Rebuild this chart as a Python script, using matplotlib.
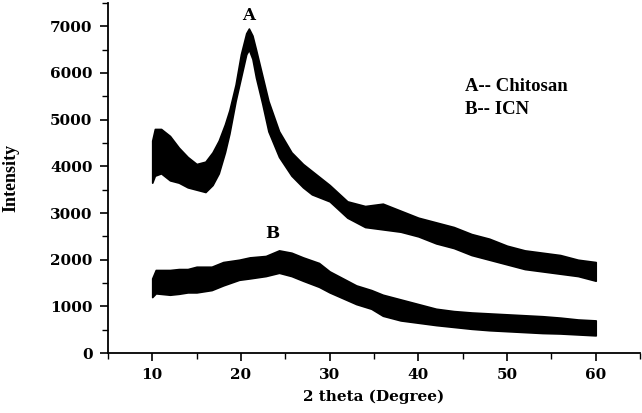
import matplotlib
matplotlib.use('Agg')
import matplotlib.pyplot as plt
from matplotlib.ticker import MultipleLocator

# Chitosan (A): 2theta and the lower/upper edge of the noisy trace
theta_a = [10.0, 10.3, 11, 12, 13, 14, 15, 16, 16.8, 17.5, 18.2, 18.7, 19.4,
           20.0, 20.6, 20.9, 21.3, 21.7, 22.4, 23.1, 24.3, 25.7, 27, 28, 30,
           32, 34, 36, 38, 40, 42, 44, 46, 48, 50, 52, 54, 56, 58, 60]
low_a = [3650, 3800, 3850, 3700, 3650, 3550, 3500, 3450, 3600, 3850, 4300,
         4700, 5400, 5900, 6400, 6500, 6300, 5900, 5350, 4750, 4200, 3800,
         3550, 3400, 3250, 2900, 2700, 2650, 2600, 2500, 2350, 2250, 2100,
         2000, 1900, 1800, 1750, 1700, 1650, 1550]
high_a = [4550, 4800, 4800, 4650, 4400, 4200, 4050, 4100, 4300, 4550, 4900,
          5200, 5750, 6400, 6850, 6950, 6800, 6500, 5950, 5400, 4750, 4300,
          4050, 3900, 3600, 3250, 3150, 3200, 3050, 2900, 2800, 2700, 2550,
          2450, 2300, 2200, 2150, 2100, 2000, 1950]

# ICN (B)
theta_b = [10.0, 10.4, 12, 13, 14, 15, 16.7, 18, 19.8, 21, 22.8, 24.3, 25.7,
           27, 28.8, 30, 31.8, 33, 34.7, 36, 38, 40, 42, 44, 46, 48, 50, 52,
           54, 56, 58, 60]
low_b = [1200, 1280, 1250, 1270, 1300, 1300, 1350, 1450, 1570, 1600, 1650,
         1720, 1650, 1550, 1420, 1300, 1150, 1050, 950, 800, 700, 650, 600,
         560, 520, 490, 470, 450, 430, 420, 400, 380]
high_b = [1600, 1780, 1780, 1800, 1800, 1850, 1850, 1950, 2000, 2050, 2080,
          2200, 2150, 2050, 1930, 1750, 1570, 1450, 1350, 1250, 1150, 1050,
          950, 900, 870, 850, 830, 810, 790, 760, 720, 700]

plt.rcParams['font.family'] = ['DejaVu Serif']
plt.rcParams['font.weight'] = 'bold'
TIMES = ['Liberation Serif', 'DejaVu Serif']

fig = plt.figure(figsize=(6.42, 4.13), dpi=100)
ax = fig.add_axes([0.168, 0.145, 0.829, 0.848])

ax.fill_between(theta_a, low_a, high_a, color='black', linewidth=1.2,
                edgecolor='black')
ax.fill_between(theta_b, low_b, high_b, color='black', linewidth=1.2,
                edgecolor='black')

ax.text(20.9, 7050, 'A', ha='center', va='bottom', fontsize=12,
        fontweight='bold')
ax.text(23.5, 2560, 'B', ha='center', va='center', fontsize=12,
        fontweight='bold')
ax.text(45.3, 5700, 'A-- Chitosan', ha='left', va='center', fontsize=13.5,
        fontweight='bold', family=TIMES)
ax.text(45.3, 5220, 'B-- ICN', ha='left', va='center', fontsize=13.5,
        fontweight='bold', family=TIMES)

ax.set_xlim(5, 65)
ax.set_ylim(0, 7500)
ax.xaxis.set_major_locator(MultipleLocator(10))
ax.xaxis.set_minor_locator(MultipleLocator(5))
ax.yaxis.set_major_locator(MultipleLocator(1000))
ax.yaxis.set_minor_locator(MultipleLocator(500))
ax.set_xticks([10, 20, 30, 40, 50, 60])
ax.tick_params(which='major', direction='out', length=6, width=1.2,
               labelsize=11, pad=5)
ax.tick_params(which='minor', direction='out', length=4, width=1.0)
for sp in ['top', 'right']:
    ax.spines[sp].set_visible(False)
for sp in ['left', 'bottom']:
    ax.spines[sp].set_linewidth(1.3)

ax.set_xlabel('2 theta (Degree)', fontsize=11, fontweight='bold', labelpad=5)
ax.set_ylabel('Intensity', fontsize=13, fontweight='bold', labelpad=22,
              family=TIMES)

fig.savefig('out.png', dpi=100)
